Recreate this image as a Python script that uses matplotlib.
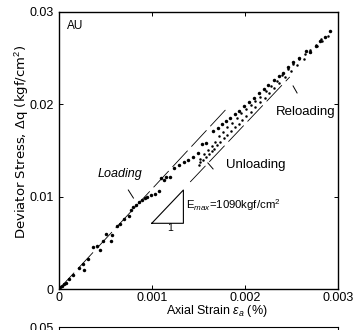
import numpy as np
import matplotlib
matplotlib.use('Agg')
import matplotlib.pyplot as plt

plt.rcParams['font.family'] = ['Liberation Sans', 'DejaVu Sans']
plt.rcParams['mathtext.fontset'] = 'custom'
plt.rcParams['mathtext.rm'] = 'Liberation Sans'
plt.rcParams['mathtext.it'] = 'Liberation Sans:italic'
plt.rcParams['lines.scale_dashes'] = False

# loading branch (strain %, deviator stress kgf/cm2)
eps_load = [0.00001, 0.00003, 0.00005, 0.00008, 0.00011, 0.00015, 0.00021, 0.00026, 0.00027,
            0.00031, 0.00037, 0.00041, 0.00044, 0.00047, 0.00051, 0.00056, 0.00057, 0.00062,
            0.00066, 0.00070, 0.00075, 0.00077, 0.00080, 0.00083, 0.00086, 0.00089, 0.00092,
            0.00095, 0.00099, 0.00103, 0.00107, 0.00110, 0.00113, 0.00115, 0.00119, 0.00124,
            0.00129, 0.00134, 0.00139, 0.00144, 0.00149, 0.00154, 0.00158, 0.00166, 0.00171,
            0.00175, 0.00179, 0.00184, 0.00189, 0.00194, 0.00199, 0.00204, 0.00210, 0.00215,
            0.00220, 0.00225, 0.00231, 0.00236, 0.00241, 0.00246, 0.00252, 0.00258, 0.00265,
            0.00270, 0.00276, 0.00281, 0.00286, 0.00291]
q_load = [0.0002, 0.0003, 0.0005, 0.0007, 0.0011, 0.0015, 0.0023, 0.0027, 0.0021,
          0.0032, 0.0045, 0.0047, 0.0042, 0.0052, 0.0060, 0.0052, 0.0058, 0.0068,
          0.0070, 0.0076, 0.0079, 0.0086, 0.0089, 0.0091, 0.0094, 0.0096, 0.0098,
          0.0100, 0.0102, 0.0103, 0.0106, 0.0120, 0.0118, 0.0121, 0.0121, 0.0131,
          0.0134, 0.0137, 0.0140, 0.0143, 0.0147, 0.0157, 0.0158, 0.0171, 0.0174,
          0.0178, 0.0182, 0.0185, 0.0189, 0.0193, 0.0198, 0.0202, 0.0207, 0.0212,
          0.0216, 0.0221, 0.0226, 0.0230, 0.0234, 0.0240, 0.0246, 0.0250, 0.0258,
          0.0256, 0.0263, 0.0268, 0.0273, 0.0279]

# unloading branch
eps_unl = [0.00289, 0.00283, 0.00277, 0.00270, 0.00263, 0.00256, 0.00249, 0.00243, 0.00237,
           0.00231, 0.00226, 0.00221, 0.00216, 0.00211, 0.00206, 0.00201, 0.00197, 0.00193,
           0.00189, 0.00185, 0.00181, 0.00177, 0.00173, 0.00170, 0.00167, 0.00164, 0.00161,
           0.00158, 0.00155, 0.00152, 0.00150]
q_unl = [0.0274, 0.0268, 0.0263, 0.0256, 0.0249, 0.0242, 0.0236, 0.0229, 0.0223,
         0.0217, 0.0212, 0.0207, 0.0202, 0.0197, 0.0192, 0.0187, 0.0183, 0.0179,
         0.0175, 0.0171, 0.0167, 0.0163, 0.0159, 0.0156, 0.0152, 0.0149, 0.0146,
         0.0143, 0.0140, 0.0137, 0.0134]

# reloading branch
eps_rel = [0.00152, 0.00156, 0.00160, 0.00164, 0.00168, 0.00172, 0.00176, 0.00181, 0.00186,
           0.00191, 0.00196, 0.00201, 0.00206, 0.00211, 0.00216, 0.00222, 0.00228, 0.00234,
           0.00240, 0.00246, 0.00252, 0.00258, 0.00264, 0.00270, 0.00276, 0.00282]
q_rel = [0.0141, 0.0146, 0.0150, 0.0155, 0.0159, 0.0165, 0.0170, 0.0175, 0.0180,
         0.0185, 0.0190, 0.0195, 0.0199, 0.0203, 0.0208, 0.0214, 0.0220, 0.0225,
         0.0231, 0.0238, 0.0243, 0.0249, 0.0254, 0.0259, 0.0264, 0.0270]

# reference lines
emax_line_x = [0.0, 0.00181]
emax_line_y = [0.0, 0.01960]
rel_line_x = [0.00141, 0.00248]
rel_line_y = [0.01158, 0.02294]
tri_x = [0.000997, 0.001337, 0.001337, 0.000997]
tri_y = [0.00711, 0.00711, 0.01071, 0.00711]

fig = plt.figure(figsize=(3.62, 3.30), dpi=100)
ax = fig.add_axes([0.163, 0.1242, 0.771, 0.8403])

ax.plot(eps_load, q_load, 'o', color='black', ms=2.5, mec='none')
ax.plot(eps_unl, q_unl, 'o', color='black', ms=1.8, mec='none')
ax.plot(eps_rel, q_rel, 'o', color='black', ms=1.8, mec='none')

ax.plot(emax_line_x, emax_line_y, color='black', lw=0.6, linestyle=(0, (16, 4)))
ax.plot(rel_line_x, rel_line_y, color='black', lw=0.6, linestyle=(0, (16, 4)))
ax.plot(tri_x, tri_y, color='black', lw=0.8)

# leader marks
ax.plot([0.000745, 0.000800], [0.01071, 0.00984], color='black', lw=0.7)
ax.plot([0.001600, 0.001656], [0.01364, 0.01299], color='black', lw=0.7)
ax.plot([0.002516, 0.002559], [0.02197, 0.02121], color='black', lw=0.7)

ax.text(0.00009, 0.0285, 'AU', fontsize=8.5, va='center', ha='left')
ax.text(0.00042, 0.0124, 'Loading', fontsize=9, style='italic', va='center', ha='left')
ax.text(0.00179, 0.0134, 'Unloading', fontsize=9.5, va='center', ha='left')
ax.text(0.00233, 0.0191, 'Reloading', fontsize=9.5, va='center', ha='left')
ax.text(0.00136, 0.00910, r'E$_{max}$=1090kgf/cm$^2$', fontsize=8.2, va='center', ha='left')
ax.text(0.001195, 0.00660, '1', fontsize=7.5, va='center', ha='center')

ax.set_xlim(0, 0.003)
ax.set_ylim(0, 0.03)
ax.set_xticks([0, 0.001, 0.002, 0.003])
ax.set_xticklabels(['0', '0.001', '0.002', '0.003'])
ax.set_yticks([0, 0.01, 0.02, 0.03])
ax.set_yticklabels(['0', '0.01', '0.02', '0.03'])
ax.tick_params(direction='in', length=3, width=0.7, labelsize=9, top=True, right=True)
ax.tick_params(axis='x', pad=2)
ax.tick_params(axis='y', pad=4)
for s in ax.spines.values():
    s.set_linewidth(1.0)

ax.set_xlabel(r'Axial Strain $\varepsilon_a$ (%)', fontsize=9, labelpad=1)
ax.xaxis.set_label_coords(0.565, -0.05)
ax.set_ylabel(r'Deviator Stress, $\Delta$q (kgf/cm$^2$)', fontsize=9.5, family='DejaVu Sans')
ax.yaxis.set_label_coords(-0.10, 0.53)

# top of the next panel, cut by the figure edge
ax2 = fig.add_axes([0.163, -0.5, 0.771, 0.509])
ax2.set_xlim(0, 0.003)
ax2.set_ylim(0, 0.05)
ax2.set_xticks([])
ax2.set_yticks([0.05])
ax2.set_yticklabels(['0.05'])
ax2.tick_params(direction='in', length=3, width=0.7, labelsize=9, pad=4)

fig.savefig('out.png', dpi=100)
